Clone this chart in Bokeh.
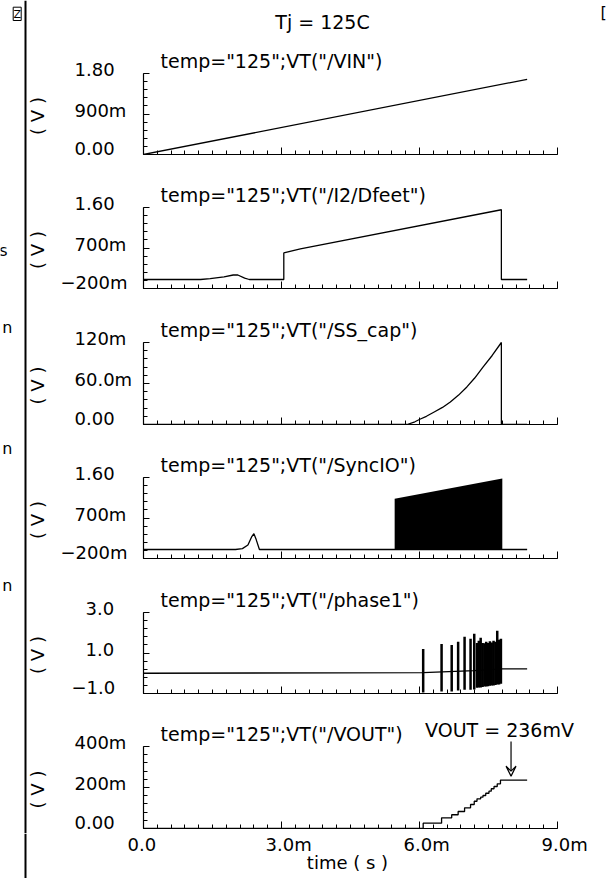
import numpy as np
from bokeh.plotting import figure
from bokeh.layouts import row, column
from bokeh.models import Range1d, FixedTicker, Span, Arrow, VeeHead
from bokeh.embed import file_html
from bokeh.resources import INLINE
from bokeh.core.properties import value

FONT = "DejaVu Sans"
FS = "18px"
FS_TITLE = "19px"

# ---------------- data (time in ms) ----------------
x_ticks = [0, 3, 6, 9]
x_tick_labels = ["0.0", "3.0m", "6.0m", "9.0m"]

vin_t = [0, 8.34]
vin_v = [0, 1.67]

dfeet_t = [0, 1.24, 1.45, 1.75, 1.95, 2.05, 2.2, 2.3, 3.05, 3.05, 3.41, 7.78, 7.78, 8.34]
dfeet_v = [0, 0, 0.02, 0.06, 0.10, 0.10, 0.03, 0, 0, 0.59, 0.68, 1.55, 0, 0]

sscap_t = [0, 5.73, 5.9, 6.02, 6.15, 6.31, 6.5, 6.67, 6.85, 7.03, 7.2, 7.38, 7.58, 7.78, 7.78, 8.34]
sscap_v = [0, 0, 0.004, 0.008, 0.012, 0.018, 0.025, 0.033, 0.043, 0.055, 0.068, 0.084, 0.101,
           0.12, 0, 0]

sync_t = [0, 2.0, 2.15, 2.27, 2.35, 2.40, 2.45, 2.52, 8.34]
sync_v = [0, 0, 0.02, 0.10, 0.28, 0.35, 0.22, 0, 0]
sync_burst_t = [5.46, 7.80]
sync_burst_hi = [1.13, 1.58]
sync_burst_lo = [0, 0]

phase_t = [0, 6.08, 7.19, 7.80, 8.34]
phase_v = [0, 0.03, 0.13, 0.22, 0.22]
phase_burst_t = [6.08, 6.48, 6.70, 6.84, 6.98, 7.11, 7.19,
                 7.25, 7.29, 7.33, 7.37, 7.41, 7.45, 7.49, 7.53, 7.57, 7.61, 7.65, 7.69, 7.73, 7.77]
phase_burst_hi = [1.20, 1.45, 1.40, 1.55, 1.80, 1.70, 1.95,
                  1.50, 1.60, 1.75, 1.50, 1.48, 1.55, 1.50, 1.58, 1.52, 1.60, 1.55, 2.10, 1.65, 1.70]
phase_burst_lo = [-0.95, -0.90, -0.90, -0.85, -0.82, -0.82, -0.80,
                  -0.72, -0.70, -0.70, -0.68, -0.66, -0.66, -0.64, -0.62, -0.60, -0.60, -0.58, -0.56, -0.55, -0.52]

vout_t = [0, 6.08, 6.48, 6.70, 6.84, 6.98, 7.11, 7.19, 7.25, 7.33, 7.38, 7.44, 7.51,
          7.56, 7.62, 7.69, 7.76, 8.34]
vout_v = [0, 0.026, 0.052, 0.067, 0.083, 0.101, 0.117, 0.133, 0.145, 0.153, 0.161,
          0.172, 0.182, 0.194, 0.205, 0.218, 0.236, 0.236]
vout_marker_t = 7.99
vout_text = "VOUT = 236mV"

titles = ['temp="125";VT("/VIN")', 'temp="125";VT("/I2/Dfeet")', 'temp="125";VT("/SS_cap")',
          'temp="125";VT("/SyncIO")', 'temp="125";VT("/phase1")', 'temp="125";VT("/VOUT")']
y_ticks = [[0, 0.9, 1.8], [-0.2, 0.7, 1.6], [0, 0.06, 0.12],
           [-0.2, 0.7, 1.6], [-1.0, 1.0, 3.0], [0, 0.2, 0.4]]
y_tick_labels = [["0.00", "900m", "1.80"], ["\u2212200m", "700m", "1.60"],
                 ["0.00", "60.0m", "120m"], ["\u2212200m", "700m", "1.60"],
                 ["\u22121.0", "1.0", "3.0"], ["0.00", "200m", "400m"]]
y_unit = "( V )"
x_title = "time ( s )"
main_title = "Tj = 125C"
side_marks = ["s", "n", "n", "n"]

# ---------------- layout (page pixels) ----------------
PAGE_W, PAGE_H = 607, 878
LEFT_W = 140                               # decoration + tick-label column
RULE_X = 25                                # left border rule
FRAME_L, AXIS_R = 143, 557
T = [73, 207, 342, 477, 612, 746]          # pixel row of each panel's top tick
B = [154, 288, 424, 558, 693, 828]         # pixel row of each panel's time axis
F = [0, 180, 314, 449, 584, 719, 833]      # figure row boundaries
label_anchor = [74, 74, 74, 74, 85, 74]
label_raise = [6, 4, 4]                    # tick labels sit slightly above their ticks
PX_PER_MS = (AXIS_R - FRAME_L) / 9.0


def px2x(px):
    return (px - FRAME_L) / PX_PER_MS


def upp(i):
    return (y_ticks[i][-1] - y_ticks[i][0]) / (B[i] - T[i])


def px2y(i, py):
    return y_ticks[i][0] + (B[i] - py) * upp(i)


def y2px(i, v):
    return B[i] - (v - y_ticks[i][0]) / upp(i)


def blank(p):
    p.outline_line_color = None
    p.grid.visible = False
    p.background_fill_color = "white"
    p.border_fill_color = "white"
    p.min_border_left = p.min_border_right = p.min_border_top = p.min_border_bottom = 0


def txt(p, x, y, s, size=FS, align="left", baseline="middle", angle=0.0, x_offset=0):
    p.text(x=[x], y=[y], text=[s], text_align=align, text_baseline=baseline, angle=angle,
           x_offset=x_offset, text_font=value(FONT), text_font_size=value(size),
           text_color="black")


def style_axes(p, yt):
    p.xaxis.ticker = FixedTicker(ticks=x_ticks,
                                 minor_ticks=list(np.round(np.arange(0, 9.001, 0.3), 4)))
    step = (yt[1] - yt[0]) / 5.0
    minors = list(np.round(np.arange(yt[0], yt[-1] + step / 2, step), 6))
    p.yaxis.ticker = FixedTicker(ticks=yt, minor_ticks=minors)
    p.xaxis.bounds = (x_ticks[0], x_ticks[-1])
    p.yaxis.bounds = (yt[0], yt[-1])
    for ax, tin in ((p.xaxis[0], 7), (p.yaxis[0], 6)):
        ax.axis_line_color = "black"
        ax.axis_line_width = 1.2
        ax.major_tick_line_color = "black"
        ax.minor_tick_line_color = "black"
        ax.major_tick_in = tin
        ax.major_tick_out = 0
        ax.minor_tick_in = 4
        ax.minor_tick_out = 0
        ax.major_label_text_color = None
        ax.major_label_text_font_size = "0px"
        ax.major_label_standoff = 0


# ---------------- left column: border rule, side marks, tick labels ----------------
left = figure(width=LEFT_W, height=F[6], x_range=Range1d(0, LEFT_W),
              y_range=Range1d(F[6], 0), x_axis_type=None, y_axis_type=None,
              output_backend="svg", toolbar_location=None)
blank(left)
left.add_layout(Span(location=RULE_X, dimension="height", line_color="black", line_width=2))
left.quad(left=[12.7], right=[20.7], top=[6.7], bottom=[20], fill_color=None,
          line_color="black", line_width=1)
txt(left, 16.7, 13.5, "Z", size="11px", align="center")
for yy, xx, s in zip([250, 327, 448, 585], [7, 12, 12, 12], side_marks):
    txt(left, xx, yy, s, size="16px", align="right")

panels = []
for i in range(6):
    yt = y_ticks[i]
    h = F[i + 1] - F[i]
    p = figure(width=PAGE_W - LEFT_W, height=h,
               x_range=Range1d(0, px2x(PAGE_W)), y_range=Range1d(yt[0], px2y(i, F[i])),
               output_backend="svg", toolbar_location=None)
    blank(p)
    p.min_border_left = FRAME_L - LEFT_W
    p.min_border_bottom = F[i + 1] - B[i]
    style_axes(p, yt)
    txt(p, px2x(160), px2y(i, T[i] - 13), titles[i], size=FS_TITLE)
    panels.append(p)

    for k, (tv, s) in enumerate(zip(yt, y_tick_labels[i])):
        ax_x = label_anchor[i] - (14 if s.startswith("\u2212") else 0)
        txt(left, ax_x, y2px(i, tv) - label_raise[k], s)
    txt(left, 36.5, (T[i] + B[i]) / 2 + 2, y_unit, align="center", angle=np.pi / 2)

LW = 1.3
panels[0].line(vin_t, vin_v, line_color="black", line_width=LW)
txt(panels[0], px2x(322), px2y(0, 21), main_title, size=FS_TITLE, align="center")
txt(panels[0], px2x(600), px2y(0, 12), "[", size="16px")
panels[1].line(dfeet_t, dfeet_v, line_color="black", line_width=LW)
panels[2].line(sscap_t, sscap_v, line_color="black", line_width=LW)
panels[3].line(sync_t, sync_v, line_color="black", line_width=LW)
panels[3].varea(x=sync_burst_t, y1=sync_burst_lo, y2=sync_burst_hi, fill_color="black")
panels[4].line(phase_t, phase_v, line_color="black", line_width=LW)
panels[4].segment(x0=phase_burst_t, y0=phase_burst_lo, x1=phase_burst_t, y1=phase_burst_hi,
                  line_color="black", line_width=2.5)
p6 = panels[5]
p6.step(vout_t, vout_v, mode="after", line_color="black", line_width=LW)
p6.add_layout(Arrow(end=VeeHead(size=10, line_color="black", line_width=1.2, fill_color=None),
                    x_start=vout_marker_t, y_start=px2y(5, 741),
                    x_end=vout_marker_t, y_end=vout_v[-1] + 4 * upp(5),
                    line_color="black", line_width=1.2))
txt(p6, px2x(499), px2y(5, 729), vout_text, size=FS_TITLE, align="center")

# ---------------- time axis labels strip (full page width) ----------------
strip = figure(width=PAGE_W, height=PAGE_H - F[6],
               x_range=Range1d(px2x(0), px2x(PAGE_W)), y_range=Range1d(PAGE_H, F[6]),
               x_axis_type=None, y_axis_type=None, output_backend="svg",
               toolbar_location=None)
blank(strip)
strip.add_layout(Span(location=px2x(RULE_X), dimension="height", line_color="black",
                      line_width=2))
for tv, s in zip(x_ticks, x_tick_labels):
    txt(strip, tv, 843.5, s, x_offset=-16)
txt(strip, (x_ticks[0] + x_ticks[-1]) / 2, 862, x_title, align="center", x_offset=-3)

layout = column(row(left, column(*panels, spacing=0), spacing=0), strip, spacing=0)
open("out.html", "w").write(file_html(layout, INLINE))
